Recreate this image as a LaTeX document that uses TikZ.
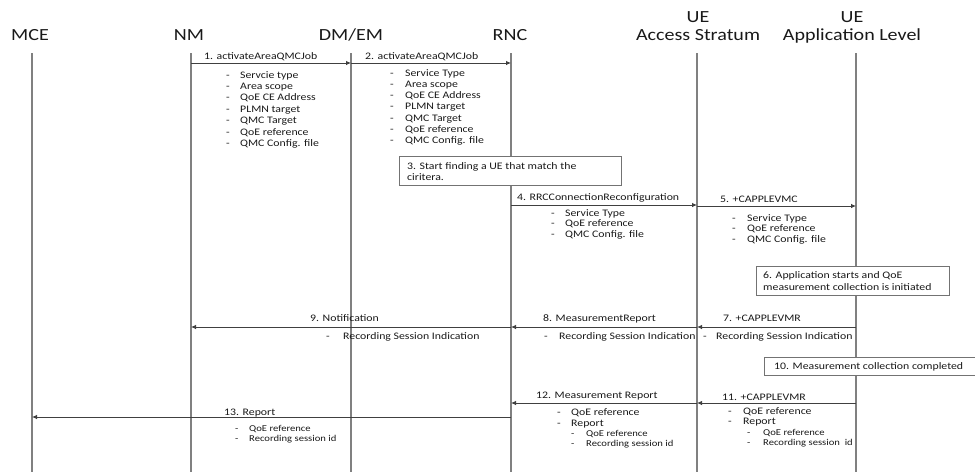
\documentclass[tikz,border=0pt]{standalone}
\usepackage{fontspec}
\setmainfont{Carlito}[FakeStretch=1.18]
\usetikzlibrary{arrows.meta}
\newcommand\dsh[1]{\makebox[#1][l]{-}}
\begin{document}
\begin{tikzpicture}[x=1pt,y=-1pt,
  title/.style={font=\fontsize{17}{19}\selectfont, anchor=base, inner sep=0pt, text=black!90},
  lbl/.style={font=\fontsize{10}{12}\selectfont, anchor=base west, inner sep=0pt, text=black!90},
  sml/.style={font=\fontsize{9}{11}\selectfont, anchor=base west, inner sep=0pt, text=black!90},
  life/.style={draw=black!50, line width=1.1pt},
  msg/.style={draw=black!75, line width=0.8pt, -{Latex[length=5pt,width=4.5pt]}},
  note/.style={draw=black!55, line width=0.8pt, fill=white, anchor=north west, inner sep=0pt}
]
\useasboundingbox (0,0) rectangle (975,472);
% titles
\node[title] (mce) at (30,40) {MCE};
\node[title] (nm) at (189,40) {NM};
\node[title] (dmem) at (351,40) {DM/EM};
\node[title] (rnc) at (510,40) {RNC};
\node[title] (ueas1) at (698,22) {UE};
\node[title] (ueas) at (698,40) {Access Stratum};
\node[title] (ueap1) at (852,22) {UE};
\node[title] (ueap) at (852,40) {Application Level};
% lifelines
\coordinate (mceT) at (32,53);  \coordinate (mceB) at (32,472);
\coordinate (nmT) at (191,53);  \coordinate (nmB) at (191,472);
\coordinate (dmT) at (351,53);  \coordinate (dmB) at (351,472);
\coordinate (rncT) at (511,53); \coordinate (rncB) at (511,472);
\coordinate (asT) at (697,53);  \coordinate (asB) at (697,472);
\coordinate (apT) at (856,53);  \coordinate (apB) at (856,472);
\foreach \l in {mce,nm,dm,rnc,as,ap} \draw[life] (\l T) -- (\l B);
% message end points
\coordinate (m1a) at (191,63); \coordinate (m1b) at (351,63);
\coordinate (m2a) at (351,63); \coordinate (m2b) at (511,63);
\coordinate (m4a) at (511,205); \coordinate (m4b) at (697,205);
\coordinate (m5a) at (697,206); \coordinate (m5b) at (856,206);
\coordinate (m7a) at (856,327); \coordinate (m7b) at (697,327);
\coordinate (m8a) at (697,327); \coordinate (m8b) at (511,327);
\coordinate (m9a) at (511,327); \coordinate (m9b) at (191,327);
\coordinate (m11a) at (856,403); \coordinate (m11b) at (697,403);
\coordinate (m12a) at (697,403); \coordinate (m12b) at (511,403);
\coordinate (m13a) at (511,417); \coordinate (m13b) at (32,417);
\foreach \m in {1,2,4,5,7,8,9,11,12,13} \draw[msg] (m\m a) -- (m\m b);
% message labels
\node[lbl] (t1) at (204,59) {1. activateAreaQMCJob};
\node[lbl] (t2) at (365,59) {2. activateAreaQMCJob};
\node[lbl] (t4) at (517,200) {4. RRCConnectionReconfiguration};
\node[lbl] (t5) at (720,202) {5. +CAPPLEVMC};
\node[lbl] (t7) at (723,321) {7. +CAPPLEVMR};
\node[lbl] (t8) at (543,321) {8. MeasurementReport};
\node[lbl] (t9) at (310,321) {9. Notification};
\node[lbl] (t11) at (722,400) {11. +CAPPLEVMR};
\node[lbl] (t12) at (536,398) {12. Measurement Report};
\node[lbl] (t13) at (224,415) {13. Report};
% parameter lists
\foreach \t [count=\i] in {Servcie type, Area scope, QoE CE Address, PLMN target, QMC Target, QoE reference, QMC Config. file}
  \node[lbl] (pa\i) at (226,{78+11.4*(\i-1)}) {\dsh{14pt}\t};
\foreach \t [count=\i] in {Service Type, Area scope, QoE CE Address, PLMN target, QMC Target, QoE reference, QMC Config. file}
  \node[lbl] (pb\i) at (390,{76+11.3*(\i-1)}) {\dsh{15pt}\t};
\foreach \t [count=\i] in {Service Type, QoE reference, QMC Config. file}
  \node[lbl] (pc\i) at (551,{216+10.8*(\i-1)}) {\dsh{14pt}\t};
\foreach \t [count=\i] in {Service Type, QoE reference, QMC Config. file}
  \node[lbl] (pd\i) at (732,{221+10.6*(\i-1)}) {\dsh{15pt}\t};
\node[lbl] (pe1) at (703,339) {\dsh{13pt}Recording Session Indication};
\node[lbl] (pf1) at (544,339) {\dsh{15pt}Recording Session Indication};
\node[lbl] (pg1) at (326,339) {\dsh{17pt}Recording Session Indication};
% list 11
\node[lbl] (ph1) at (728,414) {\dsh{15pt}QoE reference};
\node[lbl] (ph2) at (728,424) {\dsh{15pt}Report};
\node[sml] (ph3) at (747,435) {\dsh{16pt}QoE reference};
\node[sml] (ph4) at (747,445) {\dsh{16pt}Recording session \ id};
% list 12
\node[lbl] (pi1) at (557,415) {\dsh{14pt}QoE reference};
\node[lbl] (pi2) at (557,426) {\dsh{14pt}Report};
\node[sml] (pi3) at (571,436) {\dsh{15pt}QoE reference};
\node[sml] (pi4) at (571,446) {\dsh{15pt}Recording session id};
% list 13
\node[sml] (pj1) at (235,431) {\dsh{14pt}QoE reference};
\node[sml] (pj2) at (235,441) {\dsh{14pt}Recording session id};
% notes
\node[note, minimum width=222pt, minimum height=29pt] (n3) at (399,156) {};
\node[lbl] (n3a) at (407,169) {3. Start finding a UE that match the};
\node[lbl] (n3b) at (407,180) {ciritera.};
\node[note, minimum width=193pt, minimum height=29pt] (n6) at (756,266) {};
\node[lbl] (n6a) at (763,278) {6. Application starts and QoE};
\node[lbl] (n6b) at (763,290) {measurement collection is initiated};
\node[note, minimum width=214pt, minimum height=18pt] (n10) at (764,357) {};
\node[lbl] (n10a) at (774,369) {10. Measurement collection completed};
\end{tikzpicture}
\end{document}
